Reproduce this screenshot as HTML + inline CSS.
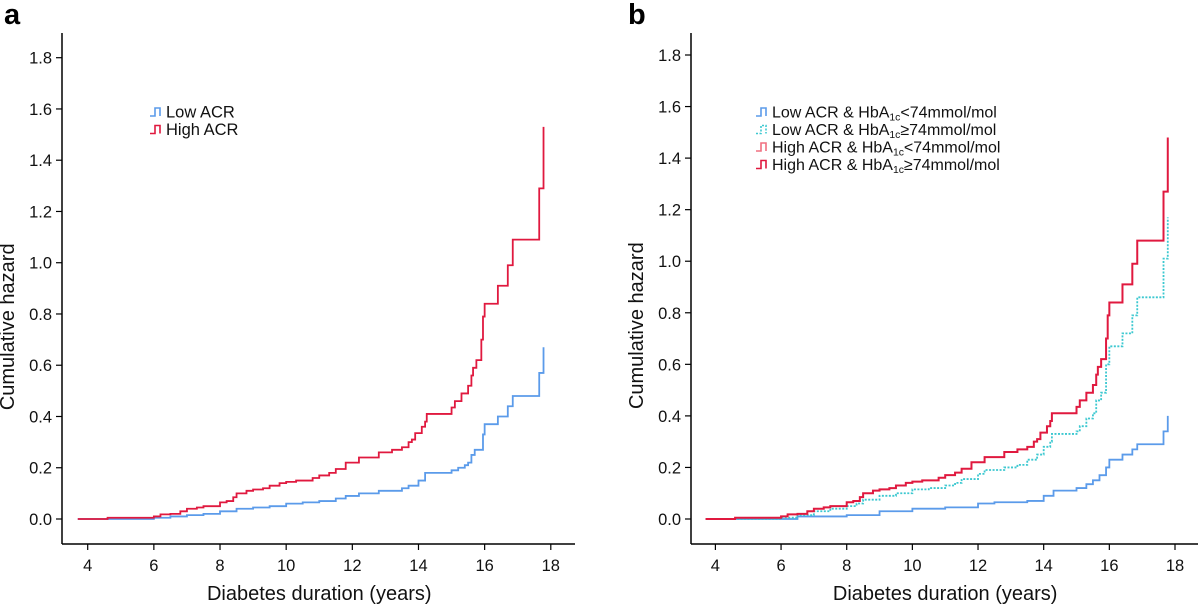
<!DOCTYPE html>
<html><head><meta charset="utf-8"><style>
body{margin:0;background:#fff;}
svg{display:block;font-family:"Liberation Sans",Arial,sans-serif;}
</style></head><body>
<svg id="chart" width="1200" height="604" viewBox="0 0 1200 604"></svg>
<script>
// Panel a data
const aHighX=[3.7,4.6,6.0,6.2,6.5,6.8,7.0,7.3,7.5,8.0,8.2,8.4,8.5,8.8,9.0,9.3,9.5,9.8,10.0,10.3,10.8,11.0,11.3,11.5,11.8,12.2,12.8,13.2,13.5,13.7,13.8,13.9,14.1,14.2,14.25,15.0,15.1,15.3,15.5,15.6,15.65,15.75,15.9,15.95,16.0,16.4,16.7,16.85,17.65,17.78];
const aHighY=[0,0.005,0.01,0.018,0.02,0.03,0.04,0.045,0.05,0.065,0.07,0.085,0.1,0.11,0.115,0.12,0.13,0.14,0.145,0.15,0.16,0.17,0.18,0.195,0.22,0.24,0.26,0.27,0.28,0.3,0.31,0.335,0.36,0.38,0.41,0.435,0.46,0.49,0.52,0.56,0.59,0.62,0.7,0.79,0.84,0.91,0.99,1.09,1.29,1.53];
const aLowX=[3.7,6.0,6.5,7.0,7.5,8.0,8.5,9.0,9.5,10.0,10.5,11.0,11.5,11.8,12.2,12.8,13.5,13.7,14.0,14.2,15.0,15.2,15.4,15.5,15.6,15.7,15.95,16.0,16.4,16.7,16.85,17.65,17.78];
const aLowY=[0,0.005,0.01,0.015,0.02,0.03,0.04,0.045,0.05,0.06,0.065,0.07,0.08,0.09,0.1,0.11,0.12,0.13,0.15,0.18,0.19,0.2,0.21,0.22,0.25,0.27,0.33,0.37,0.4,0.44,0.48,0.57,0.67];
// Panel b data
const bHighHiX=aHighX;
const bHighHiY=[0,0.005,0.01,0.018,0.02,0.03,0.04,0.045,0.05,0.065,0.07,0.085,0.1,0.11,0.115,0.12,0.13,0.14,0.145,0.15,0.16,0.17,0.18,0.195,0.22,0.24,0.26,0.27,0.28,0.3,0.31,0.335,0.36,0.38,0.41,0.435,0.46,0.49,0.52,0.56,0.59,0.62,0.7,0.79,0.84,0.91,0.99,1.08,1.27,1.48];
const bLowHiX=[3.7,6.0,6.5,7.0,7.5,8.0,8.3,8.5,9.0,9.5,10.0,10.5,11.0,11.3,11.5,12.0,12.2,12.8,13.2,13.5,13.8,14.0,14.2,14.25,15.0,15.1,15.3,15.5,15.6,15.75,15.9,16.0,16.4,16.7,16.85,17.65,17.78];
const bLowHiY=[0,0.005,0.015,0.03,0.04,0.05,0.06,0.075,0.09,0.1,0.115,0.12,0.13,0.14,0.155,0.175,0.19,0.2,0.21,0.23,0.25,0.28,0.3,0.33,0.34,0.36,0.39,0.41,0.46,0.49,0.6,0.67,0.72,0.79,0.86,1.01,1.17];
const bLowLoX=[3.7,6.5,8.0,9.0,10.0,11.0,12.0,12.5,13.5,14.0,14.3,15.0,15.3,15.5,15.7,15.9,16.0,16.4,16.7,16.85,17.65,17.78];
const bLowLoY=[0,0.01,0.015,0.03,0.04,0.045,0.06,0.065,0.07,0.09,0.11,0.12,0.135,0.15,0.17,0.2,0.23,0.25,0.27,0.29,0.34,0.4];
const xTicks=[4,6,8,10,12,14,16,18];
const yTicks=[0.0,0.2,0.4,0.6,0.8,1.0,1.2,1.4,1.6,1.8];

const NS="http://www.w3.org/2000/svg";
const svg=document.getElementById('chart');
function mk(tag,attrs,parent,text){const e=document.createElementNS(NS,tag);for(const k in attrs)e.setAttribute(k,attrs[k]);if(text!==undefined)e.textContent=text;(parent||svg).appendChild(e);return e;}

function panel(p){
  const g=mk('g',{});
  
  
  const sx=v=>p.x4+(v-4)*(p.x18-p.x4)/14;
  const sy=v=>p.y0+(v-0)*(p.y18-p.y0)/1.8;
  const ax=mk('line',{x1:p.axX,y1:33,x2:p.axX,y2:544,stroke:'#000','stroke-width':1.5},g);
  
  const bx=mk('line',{x1:p.axX,y1:544,x2:p.axEnd,y2:544,stroke:'#000','stroke-width':1.5},g);
  
  yTicks.forEach(v=>{
    const y=sy(v);
    mk('line',{x1:p.axX-6,y1:y,x2:p.axX,y2:y,stroke:'#000','stroke-width':1.2},g);
    const t=mk('text',{x:p.axX-10,y:y+6,'text-anchor':'end','font-size':16.5,fill:'#111'},g,v.toFixed(1));
    
  });
  xTicks.forEach(v=>{
    const x=sx(v);
    mk('line',{x1:x,y1:544,x2:x,y2:550,stroke:'#000','stroke-width':1.2},g);
    const t=mk('text',{x:x,y:571,'text-anchor':'middle','font-size':16.5,fill:'#111'},g,String(v));
    
  });
  const xt=mk('text',{x:(sx(4)+sx(18))/2,y:600,'text-anchor':'middle','font-size':20,fill:'#111'},g,'Diabetes duration (years)');
  
  const yt=mk('text',{x:0,y:0,'text-anchor':'middle','font-size':20,fill:'#111',transform:`translate(${p.axX-48},${sy(0.75)}) rotate(-90)`},g,'Cumulative hazard');
  
  const lb=mk('text',{x:p.lblX,y:24,'font-size':29,'font-weight':'bold',fill:'#000'},g,p.label);
  
  p.series.forEach(s=>{
    let d=`M${sx(s.x[0])},${sy(s.y[0])}`;
    for(let i=1;i<s.x.length;i++){d+=` H${sx(s.x[i])} V${sy(s.y[i])}`;}
    const attrs={d:d,fill:'none',stroke:s.color,'stroke-width':s.w||1.8};
    if(s.dash)attrs['stroke-dasharray']=s.dash;
    const pa=mk('path',attrs,g);
    
  });
  p.legend.forEach((L,i)=>{
    const y=p.legY+i*p.legStep;
    const lg=mk('g',{},g);
    
    const icon={d:`M${p.legX},${y+4} h5 v-8 h5 v8`,fill:'none',stroke:L.color,'stroke-width':1.6};
    if(L.dash)icon['stroke-dasharray']=L.dash;
    mk('path',icon,lg);
    const t=mk('text',{x:p.legX+16,y:y+5.5,'font-size':p.legFont,fill:'#111'},lg);
    L.parts.forEach(pt=>{const ts=mk('tspan',pt.sub?{'font-size':p.legFont*0.65,dy:3}:{dy:pt.back?-3:0},t,pt.t);});
  });
}
const BLUE='#5b9bea',RED='#e0193f',CYAN='#3cc8d0',PINK='#f07080';
panel({name:'panel-a',label:'a',lblX:4,axX:62,axEnd:575,x4:87.7,x18:550.8,y0:519,y18:57.7,
  legX:150,legY:112,legStep:17.5,legFont:16.5,
  series:[{id:'line-low-acr',x:aLowX,y:aLowY,color:BLUE},{id:'line-high-acr',x:aHighX,y:aHighY,color:RED}],
  legend:[{color:BLUE,parts:[{t:'Low ACR'}]},{color:RED,parts:[{t:'High ACR'}]}]});
panel({name:'panel-b',label:'b',lblX:628,axX:691,axEnd:1198,x4:715.4,x18:1175,y0:519,y18:55,
  legX:756,legY:112,legStep:17.5,legFont:16,
  series:[{id:'line-low-acr-low-hba1c',x:bLowLoX,y:bLowLoY,color:BLUE},{id:'line-low-acr-high-hba1c',x:bLowHiX,y:bLowHiY,color:CYAN,dash:'2,1.5'},{id:'line-high-acr-high-hba1c',x:bHighHiX,y:bHighHiY,color:RED,w:2}],
  legend:[
   {color:BLUE,parts:[{t:'Low ACR & HbA'},{t:'1c',sub:1},{t:'<74mmol/mol',back:1}]},
   {color:CYAN,dash:'2,1.5',parts:[{t:'Low ACR & HbA'},{t:'1c',sub:1},{t:'≥74mmol/mol',back:1}]},
   {color:PINK,parts:[{t:'High ACR & HbA'},{t:'1c',sub:1},{t:'<74mmol/mol',back:1}]},
   {color:RED,parts:[{t:'High ACR & HbA'},{t:'1c',sub:1},{t:'≥74mmol/mol',back:1}]}]});
</script>
</body></html>
